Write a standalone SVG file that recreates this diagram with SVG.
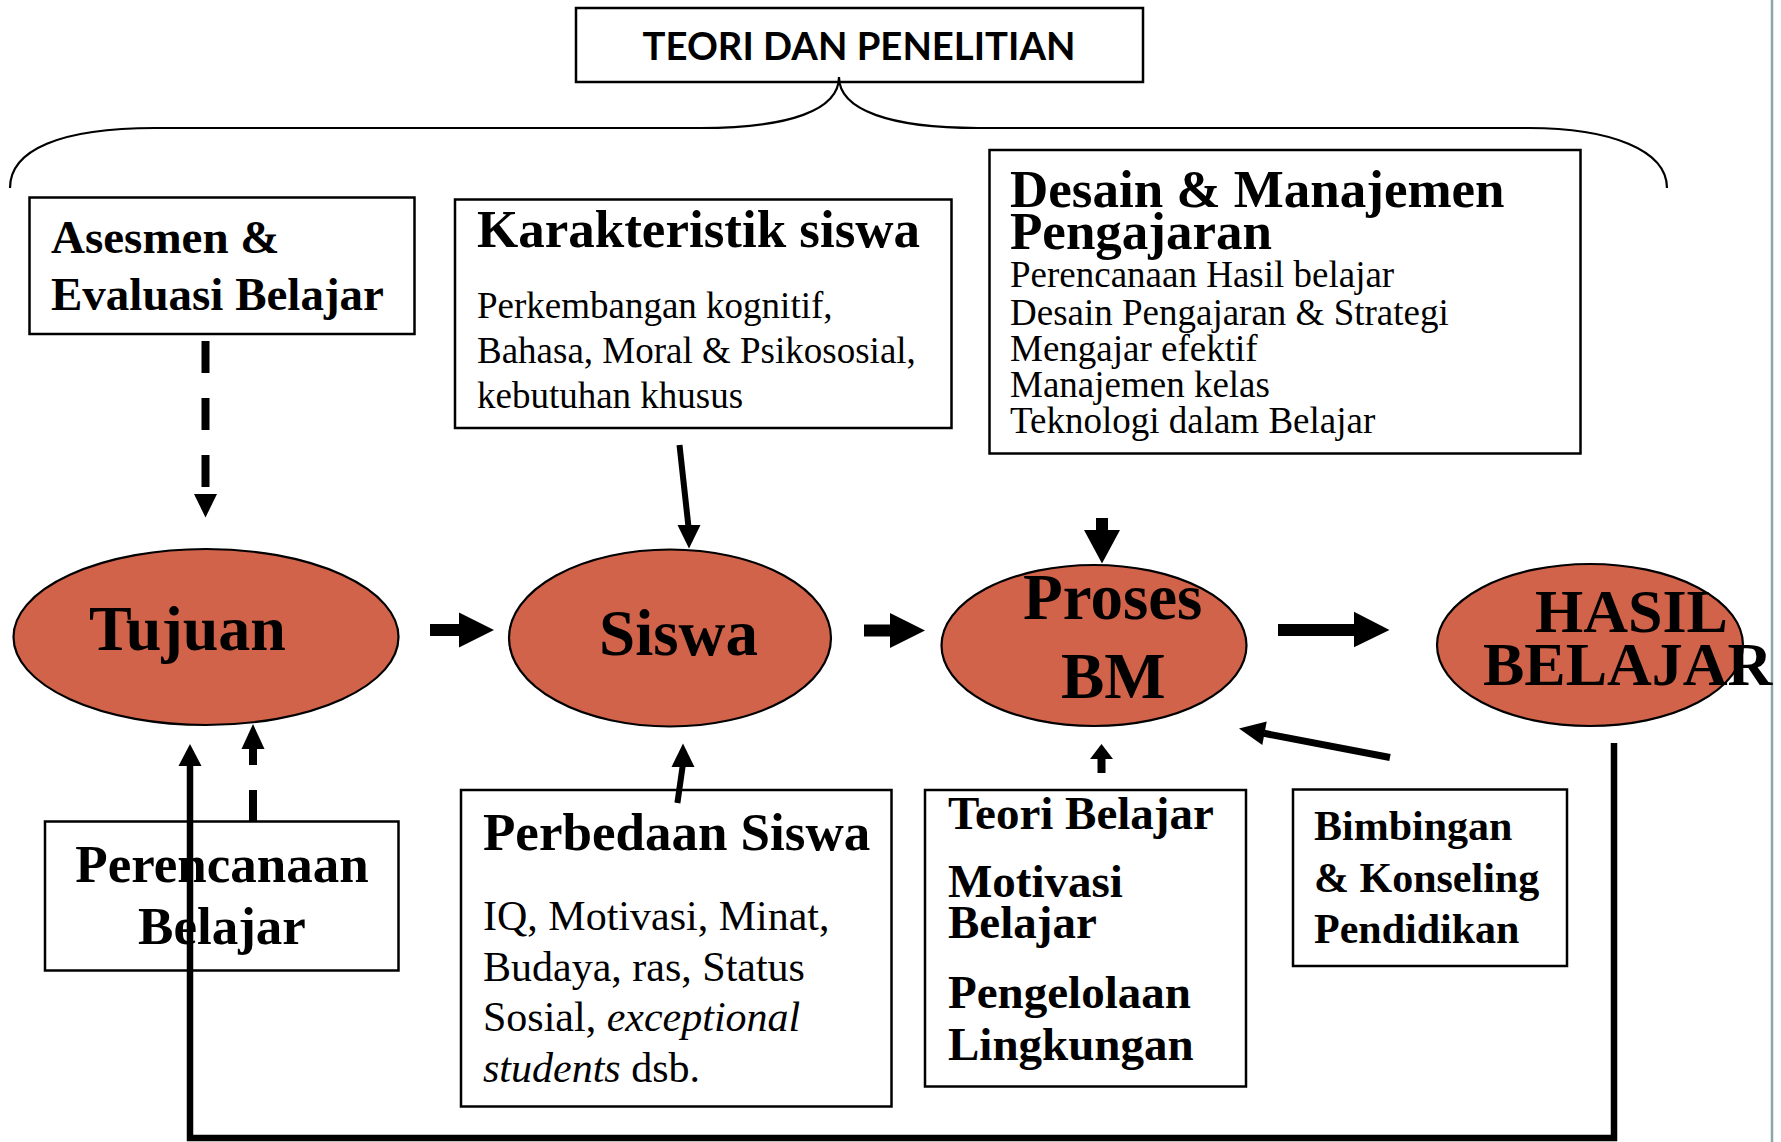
<svg xmlns="http://www.w3.org/2000/svg" width="1781" height="1142" viewBox="0 0 1781 1142">
<style>
.box{fill:#fff;stroke:#000;stroke-width:2.5}
.ell{fill:#D1634A;stroke:#000;stroke-width:2.2}
.b{font-family:"Liberation Serif","Times New Roman",serif;font-weight:bold;fill:#000}
.r{font-family:"Liberation Serif","Times New Roman",serif;fill:#000}
.line{fill:none;stroke:#000}
.head{fill:#000;stroke:none}
</style>
<rect width="1781" height="1142" fill="#fff"/>
<line x1="1772" y1="0" x2="1772" y2="1142" stroke="#8FA5AC" stroke-width="2.5"/>

<g id="teori">
<rect class="box" x="576" y="8" width="567" height="74"/>
<text x="859" y="60" text-anchor="middle" font-family="Lato, 'Open Sans', sans-serif" font-weight="bold" font-size="38" textLength="433" lengthAdjust="spacingAndGlyphs">TEORI DAN PENELITIAN</text>
</g>

<g id="asesmen">
<rect class="box" x="29.5" y="197.5" width="385" height="136.5"/>
<text class="b" font-size="47" x="51" y="253">Asesmen &amp;</text>
<text class="b" font-size="47" x="51" y="309.5">Evaluasi Belajar</text>
</g>

<g id="karakteristik">
<rect class="box" x="455" y="199.5" width="496.5" height="228.5"/>
<text class="b" font-size="53" x="477" y="247">Karakteristik siswa</text>
<text class="r" font-size="37" x="477" y="318">Perkembangan kognitif,</text>
<text class="r" font-size="37" x="477" y="363">Bahasa, Moral &amp; Psikososial,</text>
<text class="r" font-size="37" x="477" y="408">kebutuhan khusus</text>
</g>

<g id="desain">
<rect class="box" x="989.5" y="150" width="591" height="303.5"/>
<text class="b" font-size="53" x="1010" y="207">Desain &amp; Manajemen</text>
<text class="b" font-size="53" x="1010" y="248.5">Pengajaran</text>
<text class="r" font-size="37" x="1010" y="287">Perencanaan Hasil belajar</text>
<text class="r" font-size="37" x="1010" y="324.5">Desain Pengajaran &amp; Strategi</text>
<text class="r" font-size="37" x="1010" y="361">Mengajar efektif</text>
<text class="r" font-size="37" x="1010" y="397">Manajemen kelas</text>
<text class="r" font-size="37" x="1010" y="433">Teknologi dalam Belajar</text>
</g>

<g id="tujuan">
<ellipse class="ell" cx="206" cy="637" rx="192.5" ry="88"/>
<text class="b" font-size="64" x="89" y="650">Tujuan</text>
</g>

<g id="siswa">
<ellipse class="ell" cx="670" cy="638" rx="161" ry="88.5"/>
<text class="b" font-size="65" x="599" y="655">Siswa</text>
</g>

<g id="proses">
<ellipse class="ell" cx="1094" cy="645.5" rx="152.5" ry="80.5"/>
<text class="b" font-size="65" x="1023" y="619">Proses</text>
<text class="b" font-size="65" x="1061" y="698">BM</text>
</g>

<g id="hasil">
<ellipse class="ell" cx="1590" cy="645" rx="153" ry="81"/>
<text class="b" font-size="62" x="1535" y="632">HASIL</text>
<text class="b" font-size="62" x="1483" y="685">BELAJAR</text>
</g>

<g id="perencanaan">
<rect class="box" x="45" y="821.5" width="353.5" height="149"/>
<text class="b" font-size="53" x="222" y="882" text-anchor="middle">Perencanaan</text>
<text class="b" font-size="53" x="222" y="944" text-anchor="middle">Belajar</text>
</g>

<g id="perbedaan">
<rect class="box" x="461" y="790" width="430.5" height="316.5"/>
<text class="b" font-size="53" x="483" y="850">Perbedaan Siswa</text>
<text class="r" font-size="42" x="483" y="930">IQ, Motivasi, Minat,</text>
<text class="r" font-size="42" x="483" y="981">Budaya, ras, Status</text>
<text class="r" font-size="42" x="483" y="1031">Sosial, <tspan font-style="italic">exceptional</tspan></text>
<text class="r" font-size="42" x="483" y="1082"><tspan font-style="italic">students</tspan> dsb.</text>
</g>

<g id="teori-belajar">
<rect class="box" x="925" y="790" width="321" height="296.5"/>
<text class="b" font-size="47" x="948" y="829">Teori Belajar</text>
<text class="b" font-size="47" x="948" y="897">Motivasi</text>
<text class="b" font-size="47" x="948" y="938">Belajar</text>
<text class="b" font-size="47" x="948" y="1008">Pengelolaan</text>
<text class="b" font-size="47" x="948" y="1060">Lingkungan</text>
</g>

<g id="bimbingan">
<rect class="box" x="1293" y="789.5" width="274" height="176.5"/>
<text class="b" font-size="42" x="1314" y="840">Bimbingan</text>
<text class="b" font-size="42" x="1314" y="892">&amp; Konseling</text>
<text class="b" font-size="42" x="1314" y="943">Pendidikan</text>
</g>

<g id="connectors">
<path class="line" stroke-width="2.2" d="M10,188 C10,150 60,128 155,128 L700,128 C790,128 839,110 839,77 C839,110 890,128 978,128 L1529,128 C1610,128 1667,150 1667,188"/>
<line class="line" x1="205.5" y1="341" x2="205.5" y2="494" stroke-width="8" stroke-dasharray="32 25"/>
<polygon class="head" points="194,494 217,494 205.5,517.5"/>
<line class="line" x1="253" y1="821" x2="253" y2="746" stroke-width="8" stroke-dasharray="31 25"/>
<polygon class="head" points="241.5,749 264.5,749 253,724"/>
<line class="line" x1="679.5" y1="445" x2="688.5" y2="527" stroke-width="6"/>
<polygon class="head" points="677.5,525 700.5,525 689,548.5"/>
<line class="line" x1="677.4" y1="803" x2="682.8" y2="765" stroke-width="6"/>
<polygon class="head" points="671.5,767 694.5,767 683,743.5"/>
<path class="head" d="M430,624 L459,624 L459,612.5 L494,630 L459,647.5 L459,636 L430,636 Z"/>
<path class="head" d="M864,624.5 L890,624.5 L890,613 L925,630.5 L890,648 L890,636.5 L864,636.5 Z"/>
<path class="head" d="M1278,624 L1354,624 L1354,611.7 L1389.5,630 L1354,647.3 L1354,636 L1278,636 Z"/>
<path class="head" d="M1096,518 L1108,518 L1108,530 L1120,530 L1102,563.5 L1084,530 L1096,530 Z"/>
<line class="line" x1="1101.5" y1="773" x2="1101.5" y2="757" stroke-width="8"/>
<polygon class="head" points="1090,759 1113,759 1101.5,744"/>
<line class="line" x1="1390" y1="757.5" x2="1264" y2="733.3" stroke-width="7"/>
<polygon class="head" points="1266.7,721.5 1262.3,745.1 1239,728.5"/>
<path class="line" d="M1614,743 L1614,1138 L190,1138 L190,764" stroke-width="6.5" stroke-linejoin="miter"/>
<polygon class="head" points="178.5,766 201.5,766 190,744"/>
</g>
</svg>
